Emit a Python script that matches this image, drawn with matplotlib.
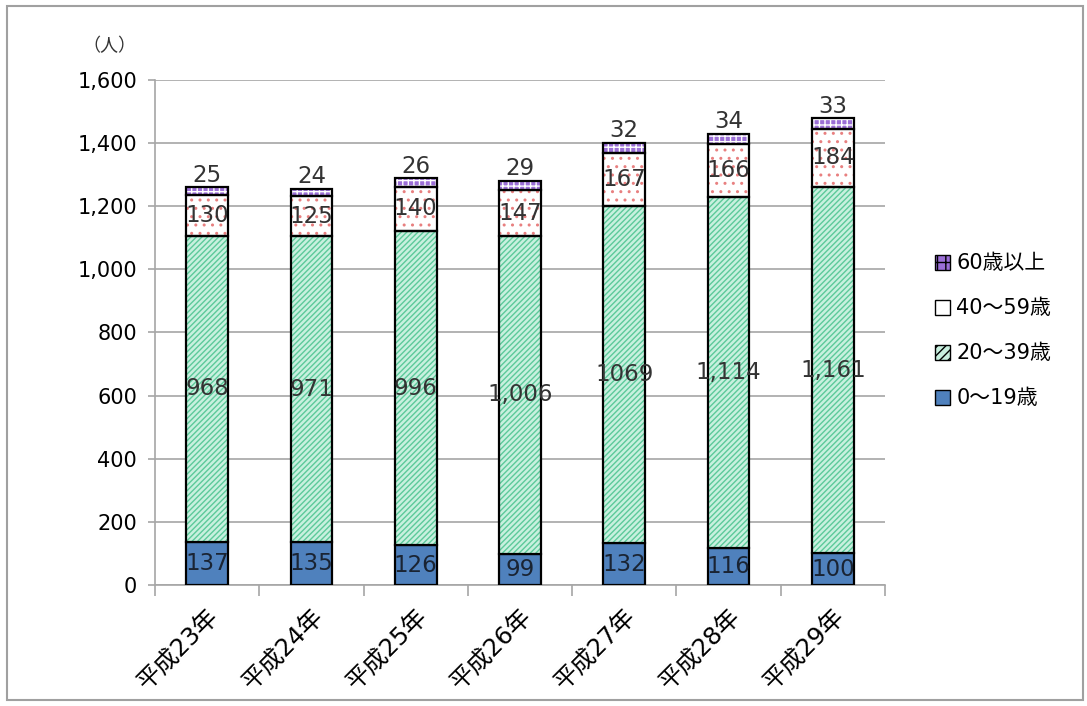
import numpy as np
import matplotlib.pyplot as plt
from matplotlib.patches import Rectangle, Patch
from matplotlib.ticker import FuncFormatter, FixedLocator

plt.rcParams['font.family'] = ['DejaVu Sans', 'Noto Sans CJK JP']
plt.rcParams['hatch.linewidth'] = 1.0

years = ['平成23年', '平成24年', '平成25年', '平成26年', '平成27年', '平成28年', '平成29年']
age_0_19 = [137, 135, 126, 99, 132, 116, 100]
age_20_39 = [968, 971, 996, 1006, 1069, 1114, 1161]
age_40_59 = [130, 125, 140, 147, 167, 166, 184]
age_60 = [25, 24, 26, 29, 32, 34, 33]
# labels as printed in the original (1069 has no comma there)
lbl_20_39 = ['968', '971', '996', '1,006', '1069', '1,114', '1,161']

x = np.arange(len(years))
w = 0.4

fig = plt.figure(figsize=(10.87, 7.06), dpi=100)
ax = fig.add_axes([0.1426, 0.1714, 0.6716, 0.7153])
fig.patches.append(Rectangle((0.006, 0.008), 0.99, 0.984, transform=fig.transFigure,
                             fill=False, edgecolor='#a0a0a0', linewidth=1.5))

b1 = np.array(age_0_19)
b2 = b1 + np.array(age_20_39)
b3 = b2 + np.array(age_40_59)

lw = 1.6
ax.bar(x, age_0_19, w, color='#4f81bd', edgecolor='black', linewidth=lw, zorder=3)
ax.bar(x, age_20_39, w, bottom=b1, color='#c8f0df', edgecolor='#5cc99a', hatch='//////',
       linewidth=0, zorder=3)
ax.bar(x, age_20_39, w, bottom=b1, color='none', edgecolor='black', linewidth=lw, zorder=4)
ax.bar(x, age_40_59, w, bottom=b2, color='white', edgecolor='#e88080', hatch='..',
       linewidth=0, zorder=3)
ax.bar(x, age_40_59, w, bottom=b2, color='none', edgecolor='black', linewidth=lw, zorder=4)
ax.bar(x, age_60, w, bottom=b3, color='#9b6fd6', edgecolor='white', hatch='+++',
       linewidth=0, zorder=3)
ax.bar(x, age_60, w, bottom=b3, color='none', edgecolor='black', linewidth=lw, zorder=4)

fs = 16.5
for i in range(len(years)):
    ax.text(x[i], age_0_19[i] / 2, str(age_0_19[i]), ha='center', va='center',
            fontsize=fs, color='#1a2433', zorder=5)
    ax.text(x[i], b1[i] + age_20_39[i] / 2, lbl_20_39[i], ha='center', va='center',
            fontsize=fs, color='#333333', zorder=5)
    ax.text(x[i], b2[i] + age_40_59[i] / 2, str(age_40_59[i]), ha='center', va='center',
            fontsize=fs, color='#333333', zorder=5)
    ax.text(x[i], b3[i] + age_60[i] + 2, str(age_60[i]), ha='center', va='bottom',
            fontsize=fs, color='#333333', zorder=5)

ax.set_xlim(-0.5, len(years) - 0.5)
ax.set_ylim(0, 1600)
ax.set_yticks(np.arange(0, 1601, 200))
ax.yaxis.set_major_formatter(FuncFormatter(lambda v, p: f'{int(v):,}'))
ax.grid(axis='y', color='#a6a6a6', linewidth=1.2, zorder=0)
ax.set_axisbelow(True)

ax.set_xticks(x)
ax.set_xticklabels(years, rotation=45, ha='right', rotation_mode='anchor', fontsize=17.5)
ax.xaxis.set_minor_locator(FixedLocator(np.arange(-0.5, len(years), 1.0)))
ax.tick_params(axis='x', which='major', length=0, pad=14)
ax.tick_params(axis='x', which='minor', length=8, color='#a6a6a6', width=1.2)
ax.tick_params(axis='y', length=5, color='#a6a6a6', width=1.2, labelsize=15, pad=8)

for s in ['top', 'right']:
    ax.spines[s].set_visible(False)
for s in ['left', 'bottom']:
    ax.spines[s].set_color('#a6a6a6')
    ax.spines[s].set_linewidth(1.2)

fig.text(0.101, 0.935, '（人）', fontsize=13, ha='center', va='center', color='#333333')

ax.legend([Patch(facecolor='#9b6fd6', edgecolor='black', hatch='++'),
           Patch(facecolor='white', edgecolor='black'),
           Patch(facecolor='#c8f0df', edgecolor='black', hatch='////'),
           Patch(facecolor='#4f81bd', edgecolor='black')],
          ['60歳以上', '40～59歳', '20～39歳', '0～19歳'],
          loc='center left', bbox_to_anchor=(1.043, 0.503), frameon=False, fontsize=15,
          handlelength=0.72, handleheight=0.72, labelspacing=1.2, handletextpad=0.3)

fig.savefig('out.png', dpi=100)
